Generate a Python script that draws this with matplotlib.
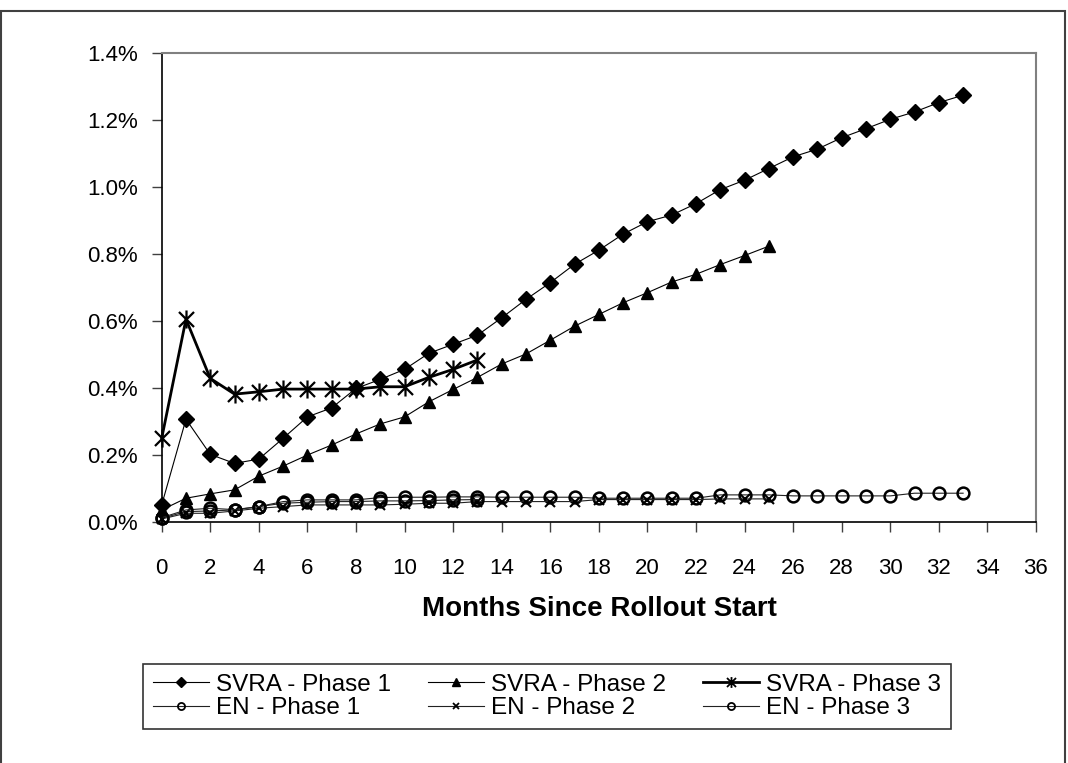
import numpy as np
import matplotlib
matplotlib.use("Agg")
import matplotlib.pyplot as plt
from matplotlib.lines import Line2D
from matplotlib.path import Path
from matplotlib.patches import Rectangle

plt.rcParams['font.family'] = ['Liberation Sans', 'DejaVu Sans']

# Valores (porcentaje)
svra_p1 = [0.050, 0.306, 0.201, 0.174, 0.187, 0.249, 0.313, 0.340, 0.398, 0.425,
           0.455, 0.503, 0.530, 0.557, 0.609, 0.664, 0.714, 0.769, 0.811, 0.859,
           0.896, 0.916, 0.950, 0.992, 1.020, 1.055, 1.090, 1.113, 1.147, 1.174,
           1.202, 1.224, 1.252, 1.274]
svra_p2 = [0.035, 0.070, 0.083, 0.095, 0.136, 0.166, 0.199, 0.229, 0.262, 0.292,
           0.313, 0.358, 0.395, 0.431, 0.471, 0.501, 0.542, 0.584, 0.619, 0.654,
           0.684, 0.716, 0.739, 0.768, 0.795, 0.823]
svra_p3 = [0.249, 0.605, 0.428, 0.381, 0.388, 0.396, 0.396, 0.396, 0.396, 0.403,
           0.403, 0.431, 0.455, 0.483]
en_p1 = [0.010, 0.030, 0.032, 0.035, 0.045, 0.060, 0.065, 0.065, 0.065, 0.072,
         0.073, 0.073, 0.074, 0.074, 0.073, 0.073, 0.073, 0.073, 0.070, 0.070,
         0.070, 0.070, 0.070, 0.080, 0.080, 0.080, 0.077, 0.077, 0.077, 0.077,
         0.077, 0.085, 0.085, 0.085]
en_p2 = [0.008, 0.025, 0.025, 0.032, 0.040, 0.045, 0.050, 0.050, 0.050, 0.050,
         0.052, 0.055, 0.055, 0.060, 0.060, 0.060, 0.060, 0.060, 0.066, 0.066,
         0.066, 0.066, 0.066, 0.068, 0.068, 0.068]
en_p3 = [0.012, 0.035, 0.040, 0.036, 0.045, 0.055, 0.058, 0.060, 0.060, 0.062,
         0.062, 0.063, 0.065, 0.066]

x_ticks = list(range(0, 37, 2))
y_ticks = [0.0, 0.2, 0.4, 0.6, 0.8, 1.0, 1.2, 1.4]

# Marcador tipo asterisco de Excel (X con barra vertical)
star = Path([(-1, -1), (1, 1), (-1, 1), (1, -1), (0, -1.2), (0, 1.2)],
            [Path.MOVETO, Path.LINETO, Path.MOVETO, Path.LINETO, Path.MOVETO, Path.LINETO])

series = [
    (svra_p1, 'SVRA - Phase 1', dict(color='black', lw=0.8, marker='D', ms=8.5)),
    (svra_p2, 'SVRA - Phase 2', dict(color='black', lw=0.8, marker='^', ms=9)),
    (svra_p3, 'SVRA - Phase 3', dict(color='black', lw=2, marker=star, ms=13, mew=1.6)),
    (en_p1, 'EN - Phase 1', dict(color='#222222', lw=0.8, marker='o', ms=8.5,
                                 mfc='none', mec='black', mew=1.8)),
    (en_p2, 'EN - Phase 2', dict(color='#222222', lw=0.8, marker='x', ms=6.5,
                                 mec='black', mew=1.5)),
    (en_p3, 'EN - Phase 3', dict(color='#222222', lw=0.8, marker='o', ms=8.5,
                                 mfc='none', mec='black', mew=1.8)),
]

fig = plt.figure(figsize=(10.68, 7.63), dpi=100)
ax = fig.add_axes([0.1514, 0.3163, 0.8186, 0.6142])

proxies = []
for vals, name, st in series:
    ln, = ax.plot(range(len(vals)), vals, label=name, **st)
    ln.set_clip_on(False)
    # versión reducida del marcador para la leyenda
    pst = dict(st)
    pst['ms'] = st['ms'] * (0.7 if st['marker'] == 'x' else 0.6)
    if 'mew' in pst:
        pst['mew'] = min(pst['mew'], 1.3)
    proxies.append(Line2D([], [], **pst))

ax.set_xlim(0, 36)
ax.set_ylim(0, 1.4)
ax.set_xticks(x_ticks)
ax.set_yticks(y_ticks)
ax.set_yticklabels(['{:.1f}%'.format(v) for v in y_ticks])
ax.tick_params(axis='both', direction='out', length=7, width=1, labelsize=16,
               color='#404040')
ax.tick_params(axis='x', pad=19)
ax.tick_params(axis='y', pad=10)
for s in ['top', 'right']:
    ax.spines[s].set_color('#808080')
    ax.spines[s].set_linewidth(1.5)
for s in ['left', 'bottom']:
    ax.spines[s].set_color('black')
    ax.spines[s].set_linewidth(1.2)

fig.text(0.561, 0.2018, 'Months Since Rollout Start', ha='center', va='center',
         fontsize=20, fontweight='bold')

order = [0, 3, 1, 4, 2, 5]
leg = fig.legend([proxies[i] for i in order], [series[i][1] for i in order],
                 ncol=3, loc='center', mode='expand',
                 bbox_to_anchor=(0.1339, 0.0459, 0.7566, 0.0826),
                 fontsize=17.5, frameon=True, fancybox=False,
                 handlelength=2.3, handletextpad=0.3, columnspacing=0.5,
                 labelspacing=0.05, borderpad=0.4, borderaxespad=0)
leg.get_frame().set_edgecolor('black')
leg.get_frame().set_linewidth(1.2)

# Marco exterior del gráfico
fig.patches.append(Rectangle((0.001, -0.05), 0.996, 1.036, transform=fig.transFigure,
                             fill=False, edgecolor='#404040', lw=1.5))

fig.savefig('out.png', dpi=100)
